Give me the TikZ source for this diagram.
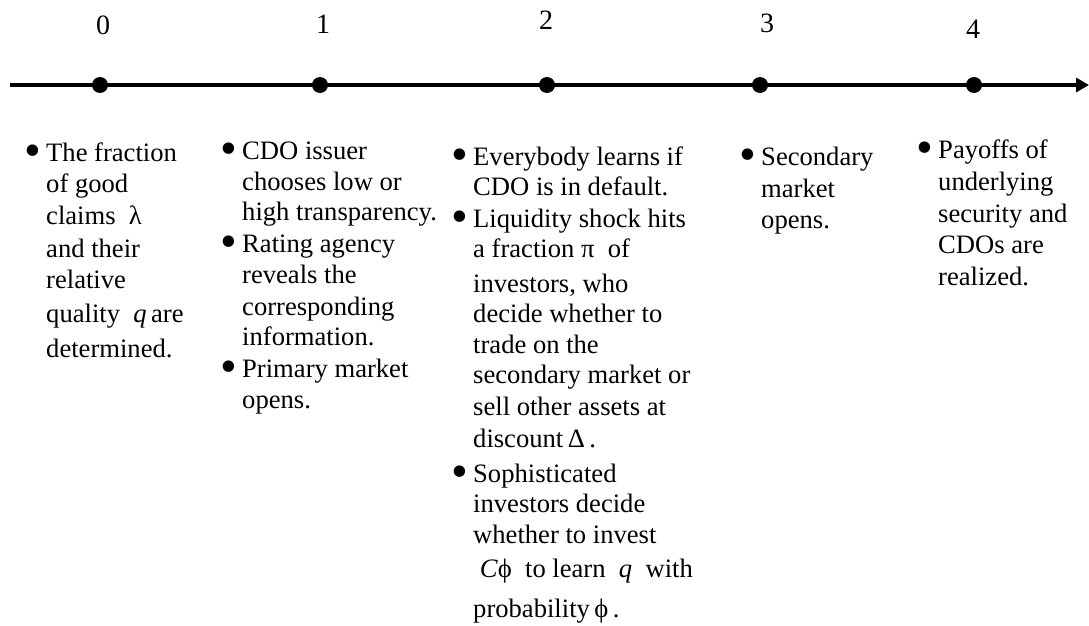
\documentclass[tikz,border=0pt]{standalone}
\usepackage{fontspec}
\setmainfont{Liberation Serif}
\usetikzlibrary{arrows.meta}
\newcommand\bul{\llap{\makebox[21.4pt][l]{\raisebox{-5pt}{\scalebox{1.8}{\textbullet}}}}}
\tikzset{
  dot/.style={circle, fill=black, inner sep=0pt, minimum size=16pt},
  tlabel/.style={anchor=base, inner sep=0pt, font=\fontsize{28}{32}\selectfont},
  blk/.style={anchor=base west, inner sep=0pt, align=left, font=\fontsize{26.6}{31}\selectfont},
  axis/.style={line width=4pt, -{Triangle[length=13pt,width=14pt]}}
}
\begin{document}
\begin{tikzpicture}[x=1pt,y=-1pt]
\useasboundingbox (0,0) rectangle (1089,626);
\coordinate (s) at (10,85);
\coordinate (e) at (1089,85);
\draw[axis] (s) -- (e);
\node[dot] (d0) at (100,85) {};
\node[dot] (d1) at (320,85) {};
\node[dot] (d2) at (547,85) {};
\node[dot] (d3) at (760,85) {};
\node[dot] (d4) at (974,85) {};
\node[tlabel] (l0) at (103,35) {0};
\node[tlabel] (l1) at (323,34) {1};
\node[tlabel] (l2) at (546,30) {2};
\node[tlabel] (l3) at (767,33) {3};
\node[tlabel] (l4) at (973,38) {4};
% base anchor = baseline of the last line
\node[blk] (b0) at (46,357) {\bul The fraction\\
of good\\[1pt]
claims\ \ λ\\[2pt]
and their\\
relative\\[3pt]
quality\ \ \textit{q}\,are\\[4pt]
determined.};
\node[blk] (b1) at (242,408) {\bul CDO issuer\\
chooses low or\\[-1pt]
high transparency.\\[1pt]
\bul Rating agency\\
reveals the\\[1pt]
corresponding\\[-1pt]
information.\\[1pt]
\bul Primary market\\
opens.};
\node[blk] (b2) at (473,617) {\bul Everybody learns if\\[-1pt]
CDO is in default.\\[1pt]
\bul Liquidity shock hits\\[-1pt]
a fraction π\ \ of\\[4pt]
investors, who\\[-1pt]
decide whether to\\
trade on the\\[-1pt]
secondary market or\\[1pt]
sell other assets at\\[1pt]
discount\,Δ\,.\\[4pt]
\bul Sophisticated\\[-1pt]
investors decide\\
whether to invest\\[3pt]
\ \textit{C}ϕ\ \ to learn\ \ \textit{q}\ \ with\\[9pt]
probability\,ϕ\,.};
\node[blk] (b3) at (761,228) {\bul Secondary\\[1pt]
market\\
opens.};
\node[blk] (b4) at (938,285) {\bul Payoffs of\\[1pt]
underlying\\[1pt]
security and\\
CDOs are\\[1pt]
realized.};
\end{tikzpicture}
\end{document}
